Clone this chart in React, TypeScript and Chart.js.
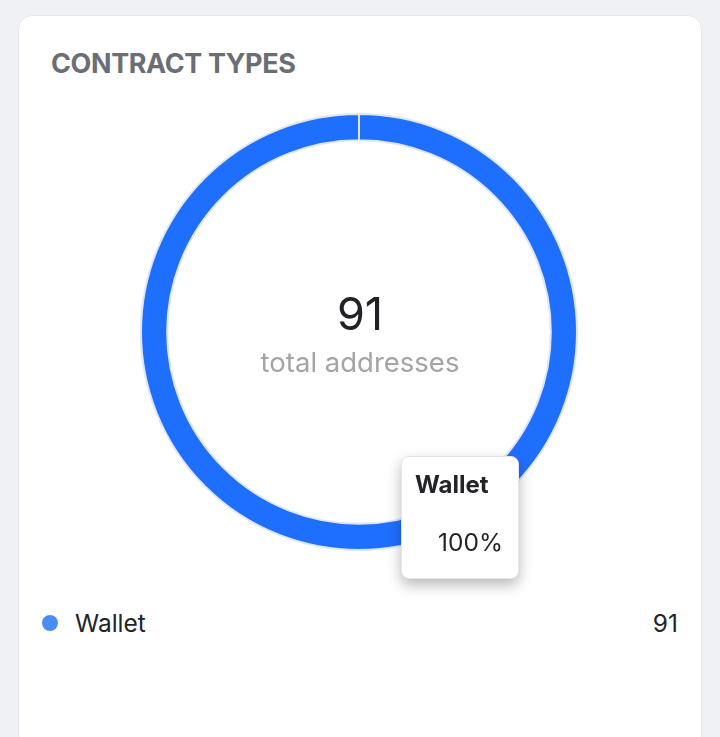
import React, { useEffect, useRef } from "react";
import { Chart, registerables } from "chart.js";

Chart.register(...registerables);

const categories: string[] = ["Wallet"];
const values: number[] = [91];
const sliceColors: string[] = ["#1f6fff"];
const legendDotColors: string[] = ["#4a8cf6"];
const totalLabel = "total addresses";
const titleText = "CONTRACT TYPES";

const FONT = "Inter, 'Noto Sans', sans-serif";

export default function App() {
  const canvasRef = useRef<HTMLCanvasElement | null>(null);

  useEffect(() => {
    const canvas = canvasRef.current;
    if (!canvas) return;
    const chart = new Chart(canvas, {
      type: "doughnut",
      data: {
        labels: categories,
        datasets: [
          {
            data: values,
            backgroundColor: sliceColors,
            borderColor: "#dfe5ef",
            borderWidth: 2,
          },
        ],
      },
      options: {
        responsive: false,
        animation: false,
        cutout: "88%",
        layout: { padding: 0 },
        plugins: {
          legend: { display: false },
          tooltip: { enabled: false },
        },
      },
    });
    return () => chart.destroy();
  }, []);

  const total = values.reduce((a, b) => a + b, 0);

  return (
    <div
      style={{
        position: "absolute",
        left: 0,
        top: 0,
        width: 720,
        height: 737,
        background: "#f0f1f5",
        overflow: "hidden",
        fontFamily: FONT,
      }}
    >
      <div
        style={{
          position: "absolute",
          left: 18,
          top: 15,
          width: 684,
          height: 760,
          background: "#ffffff",
          borderRadius: 14,
          border: "1px solid #e6e8ee",
          boxSizing: "border-box",
        }}
      />
      <div
        style={{
          position: "absolute",
          left: 51,
          top: 46,
          fontSize: 27,
          fontWeight: 700,
          color: "#6b6f75",
          letterSpacing: -0.4,
          lineHeight: "36px",
        }}
      >
        {titleText}
      </div>
      <canvas
        ref={canvasRef}
        width={438}
        height={438}
        style={{ position: "absolute", left: 140, top: 113, width: 438, height: 438 }}
      />
      <div
        style={{
          position: "absolute",
          left: 160,
          width: 400,
          top: 287,
          textAlign: "center",
          fontSize: 45,
          color: "#202225",
          lineHeight: "54px",
        }}
      >
        {total}
      </div>
      <div
        style={{
          position: "absolute",
          left: 160,
          width: 400,
          top: 345,
          textAlign: "center",
          fontSize: 27.5,
          color: "#a4a4a4",
          lineHeight: "34px",
        }}
      >
        {totalLabel}
      </div>
      {/* tooltip */}
      <div
        style={{
          position: "absolute",
          left: 401,
          top: 456,
          width: 118,
          height: 123,
          background: "#ffffff",
          borderRadius: 8,
          border: "1px solid #e4e6ea",
          boxSizing: "border-box",
          boxShadow: "0 6px 14px rgba(0,0,0,0.28)",
        }}
      >
        <div
          style={{
            position: "absolute",
            left: 13,
            top: 13,
            fontSize: 24,
            fontWeight: 700,
            color: "#222428",
            lineHeight: "30px",
          }}
        >
          {categories[0]}
        </div>
        <div
          style={{
            position: "absolute",
            right: 15,
            top: 70,
            fontSize: 24.5,
            color: "#222428",
            lineHeight: "30px",
          }}
        >
          {Math.round((values[0] / total) * 100) + "%"}
        </div>
      </div>
      {/* legend */}
      {categories.map((c, i) => (
        <div key={c} style={{ position: "absolute", left: 0, top: 606 + i * 40, width: 720, height: 34 }}>
          <div
            style={{
              position: "absolute",
              left: 42,
              top: 9,
              width: 16,
              height: 16,
              borderRadius: 8,
              background: legendDotColors[i],
            }}
          />
          <div
            style={{
              position: "absolute",
              left: 75,
              top: 0,
              fontSize: 24.5,
              color: "#222428",
              lineHeight: "34px",
            }}
          >
            {c}
          </div>
          <div
            style={{
              position: "absolute",
              right: 42,
              top: 0,
              fontSize: 24.5,
              color: "#222428",
              lineHeight: "34px",
            }}
          >
            {values[i]}
          </div>
        </div>
      ))}
    </div>
  );
}
